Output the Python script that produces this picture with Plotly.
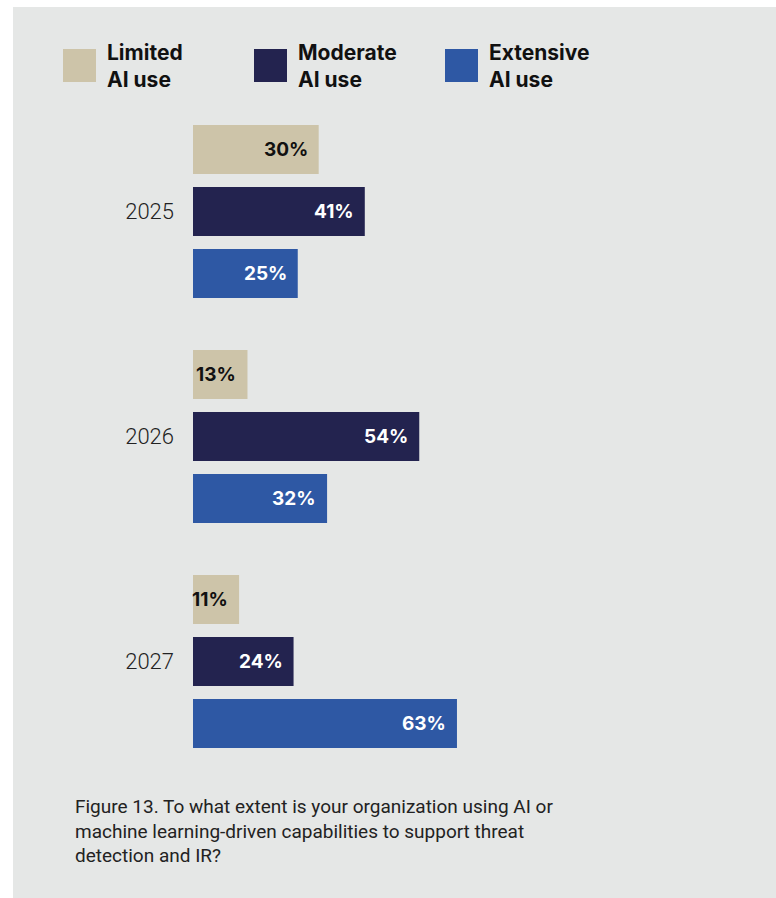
import plotly.graph_objects as go

years = ["2025", "2026", "2027"]
series_names = ["Limited AI use", "Moderate AI use", "Extensive AI use"]
limited = [30, 13, 11]
moderate = [41, 54, 24]
extensive = [25, 32, 63]
series_values = [limited, moderate, extensive]
colors = ["#cdc4a9", "#23234f", "#2e58a4"]
label_colors = ["#111111", "#ffffff", "#ffffff"]
caption = ("Figure 13. To what extent is your organization using AI or<br>"
           "machine learning-driven capabilities to support threat<br>"
           "detection and IR?")

W, H = 776, 898
L, R, T, B = 193, 164, 99, 124
PW, PH = W - L - R, H - T - B


def px(x):
    return (x - L) / PW


def py(y):
    return (H - B - y) / PH


fig = go.Figure()
for name, vals, col in zip(series_names, series_values, colors):
    fig.add_trace(go.Bar(
        y=years, x=vals, name=name, orientation="h",
        marker=dict(color=col, line=dict(width=0)),
        showlegend=False, hoverinfo="skip",
    ))

annotations = []
# value labels
pitch = 62
for i, (vals, lc) in enumerate(zip(series_values, label_colors)):
    for j, v in enumerate(vals):
        annotations.append(dict(
            x=v, y=j, xref="x", yref="y", text=f"{v}%", showarrow=False,
            xanchor="right", yanchor="middle", xshift=-9,
            yshift=(1 - i) * pitch,
            font=dict(family="Inter", size=19, color=lc, weight="bold"),
        ))

# legend
leg_sq_x = [63, 254, 445]
shapes = [dict(type="rect", xref="paper", yref="paper",
               x0=px(13), x1=px(W + 2), y0=py(H + 2), y1=py(7),
               fillcolor="#e5e7e6", line=dict(width=0), layer="below")]
for sx, name, col in zip(leg_sq_x, series_names, colors):
    shapes.append(dict(type="rect", xref="paper", yref="paper",
                       x0=px(sx), x1=px(sx + 33), y0=py(82), y1=py(49),
                       fillcolor=col, line=dict(width=0)))
    first, rest = name.split(" ", 1)
    annotations.append(dict(
        x=px(sx + 42), y=py(66), xref="paper", yref="paper",
        text=f"{first}<br>{rest}", showarrow=False, align="left",
        xanchor="left", yanchor="middle",
        font=dict(family="Inter", size=21, color="#111111", weight="bold"),
    ))

annotations.append(dict(
    x=px(73), y=py(793), xref="paper", yref="paper", text=caption,
    showarrow=False, align="left", xanchor="left", yanchor="top",
    font=dict(family="Roboto", size=19, color="#222222"),
))

fig.update_layout(
    width=W, height=H, autosize=False,
    margin=dict(l=L, r=R, t=T, b=B, pad=0),
    paper_bgcolor="#ffffff", plot_bgcolor="rgba(0,0,0,0)",
    barmode="group", bargap=39 / 225, bargroupgap=13 / 62,
    shapes=shapes, annotations=annotations,
    xaxis=dict(range=[0, 100], showgrid=False, zeroline=False,
               showticklabels=False, showline=False, fixedrange=True),
    yaxis=dict(type="category", categoryorder="array", categoryarray=years,
               range=[2.5, -0.5], showgrid=False, zeroline=False,
               showline=False, ticks="", ticklabelstandoff=18,
               tickfont=dict(family="Roboto", size=22, color="#222222",
                             weight=300)),
)

fig.write_html("out.html")
